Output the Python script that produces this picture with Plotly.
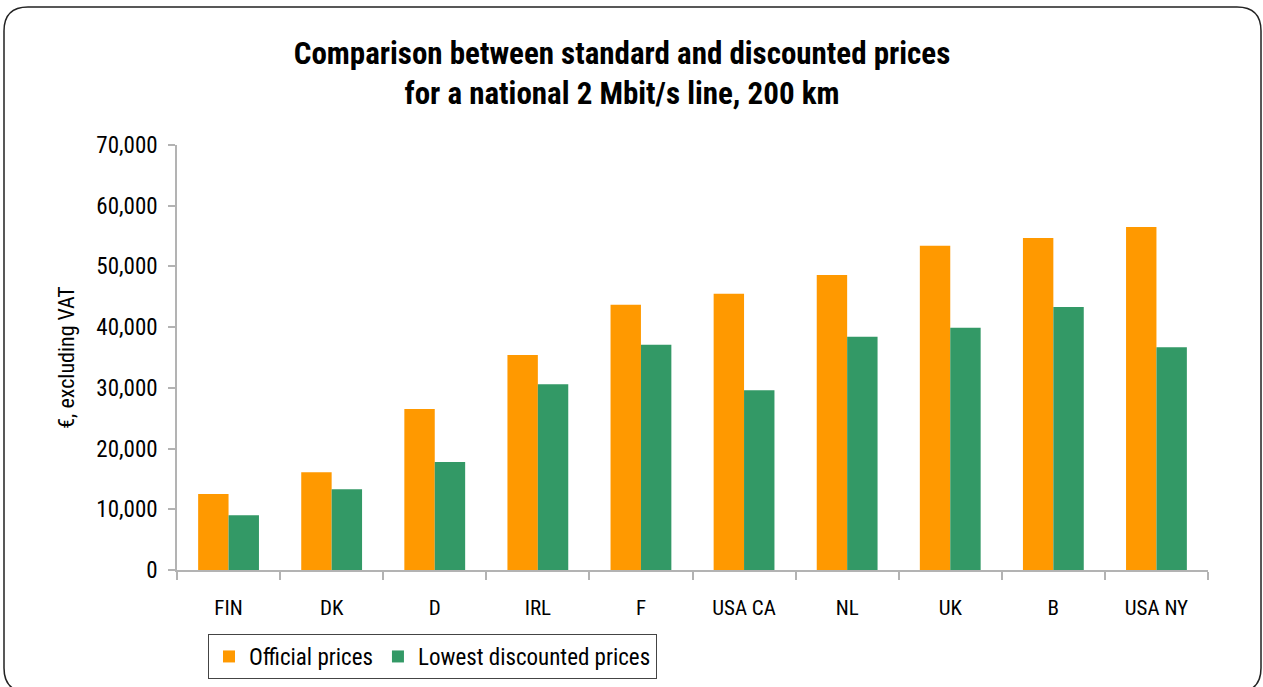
import plotly.graph_objects as go

countries = ["FIN", "DK", "D", "IRL", "F", "USA CA", "NL", "UK", "B", "USA NY"]
official = [12500, 16100, 26500, 35400, 43700, 45500, 48600, 53400, 54700, 56500]
discounted = [9000, 13300, 17800, 30600, 37100, 29600, 38400, 39900, 43300, 36700]
series_names = ["Official prices", "Lowest discounted prices"]
y_ticks = [0, 10000, 20000, 30000, 40000, 50000, 60000, 70000]
y_tick_labels = ["0", "10,000", "20,000", "30,000", "40,000", "50,000", "60,000", "70,000"]

W, H = 1263, 687
L, R, T, B = 177, 1208, 145, 570
FONT = "Liberation Sans Narrow, Arial Narrow, Roboto Condensed, Liberation Sans, Arial, sans-serif"

fig = go.Figure()
fig.add_trace(go.Bar(x=countries, y=official, name=series_names[0],
                     marker=dict(color="#FF9900", line=dict(width=0))))
fig.add_trace(go.Bar(x=countries, y=discounted, name=series_names[1],
                     marker=dict(color="#339966", line=dict(width=0))))

def px(x):
    return (x - L) / (R - L)

def py(y):
    return (B - y) / (B - T)

# rounded border
x0, x1, y0, y1, r = 4, 1261, 7, 692, 24
path = (f"M {px(x0)},{py(y0 + r)} Q {px(x0)},{py(y0)} {px(x0 + r)},{py(y0)} "
        f"L {px(x1 - r)},{py(y0)} Q {px(x1)},{py(y0)} {px(x1)},{py(y0 + r)} "
        f"L {px(x1)},{py(y1 - r)} Q {px(x1)},{py(y1)} {px(x1 - r)},{py(y1)} "
        f"L {px(x0 + r)},{py(y1)} Q {px(x0)},{py(y1)} {px(x0)},{py(y1 - r)} Z")

fig.update_layout(
    width=W, height=H,
    margin=dict(l=L, r=W - R, t=T, b=H - B, autoexpand=False),
    paper_bgcolor="white", plot_bgcolor="white",
    barmode="group", bargap=0.41, bargroupgap=0,
    font=dict(family=FONT, color="black", size=22),
    title=dict(text="<b>Comparison between standard and discounted prices<br>for a national 2 Mbit/s line, 200 km</b>",
               x=622 / W, xanchor="center", y=1 - 64 / H, yanchor="middle",
               font=dict(family=FONT, size=31, color="black")),
    xaxis=dict(showline=True, linecolor="#b3b3b3", linewidth=1.5, ticks="outside",
               tickson="boundaries", ticklen=8, tickcolor="#b3b3b3", tickwidth=1.5,
               tickfont=dict(size=21), showgrid=False, ticklabelstandoff=18),
    yaxis=dict(range=[0, 70000], tickvals=y_ticks, ticktext=y_tick_labels,
               showline=True, linecolor="#b3b3b3", linewidth=1.5, ticks="outside",
               ticklen=7, tickcolor="#b3b3b3", tickwidth=1.5, showgrid=False,
               tickfont=dict(size=23), zeroline=False, ticklabelstandoff=6,
               title=dict(text="€, excluding VAT", font=dict(size=22), standoff=16)),
    legend=dict(orientation="h", x=px(208), y=py(634), xanchor="left", yanchor="top",
                bordercolor="#444444", borderwidth=1, bgcolor="white",
                font=dict(size=23), itemwidth=30, traceorder="normal"),
    shapes=[dict(type="path", path=path, xref="paper", yref="paper",
                 line=dict(color="#222222", width=1.5), fillcolor="rgba(0,0,0,0)", layer="below")],
)

fig.write_html("out.html", config={"displayModeBar": False},
               post_script="document.body.style.margin='0';document.body.style.overflow='hidden';")
